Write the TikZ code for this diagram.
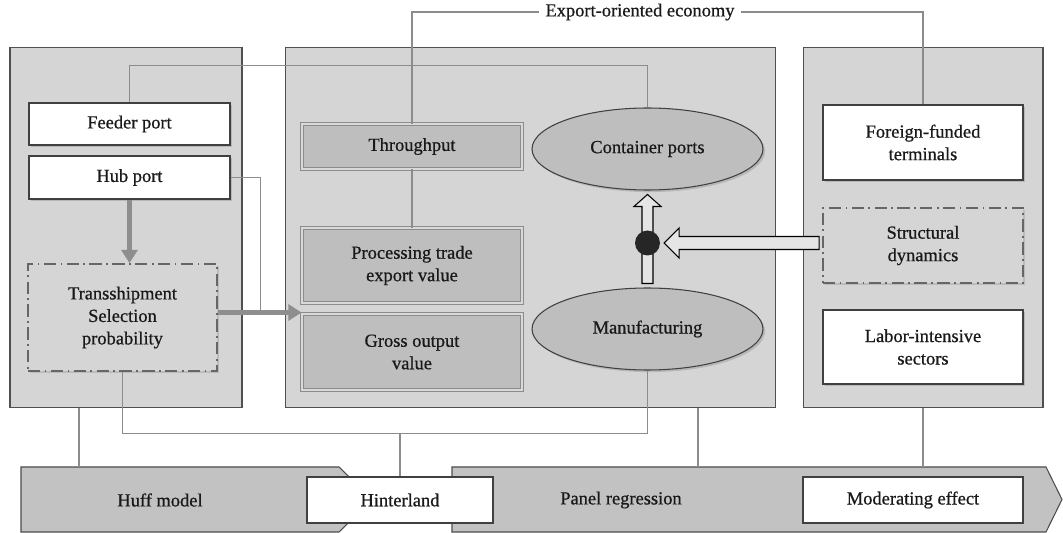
\documentclass[tikz,border=0pt]{standalone}
\usepackage{fontspec}
\setmainfont{Liberation Serif}[FakeBold=0.7]
\usetikzlibrary{shapes, arrows.meta, calc, shadows}
\definecolor{panelGray}{HTML}{D5D5D5}
\definecolor{boxGray}{HTML}{BEBEBE}
\definecolor{bandGray}{HTML}{C2C2C2}
\definecolor{lineGray}{HTML}{8C8C8C}
\definecolor{edgeGray}{HTML}{505050}
\definecolor{arrowGray}{HTML}{8E8E8E}
\tikzstyle{panel}       = [rectangle,
                           draw=edgeGray,
                           fill=panelGray,
                           line width=0.6pt]
\tikzstyle{whiteBox}    = [rectangle,
                           align=center,
                           draw=black!75,
                           fill=white,
                           line width=0.6pt,
                           drop shadow={shadow xshift=1.2pt, shadow yshift=-1.2pt, opacity=0.35}]
\tikzstyle{flatBox}     = [rectangle,
                           align=center,
                           draw=black!75,
                           fill=white,
                           line width=0.6pt]
\tikzstyle{grayBox}     = [rectangle,
                           align=center,
                           minimum width=4.4cm,
                           draw=black!45,
                           double=black!15,
                           double distance=1.2pt,
                           line width=0.5pt,
                           fill=boxGray,
                           drop shadow={shadow xshift=1.2pt, shadow yshift=-1.2pt, opacity=0.35}]
\tikzstyle{dashBox}     = [rectangle,
                           align=center,
                           draw=black!60,
                           fill=panelGray,
                           line width=1pt,
                           dash pattern=on 7pt off 2.5pt on 1pt off 2.5pt,
                           drop shadow={shadow xshift=1.2pt, shadow yshift=-1.2pt, opacity=0.3}]
\tikzstyle{oval}        = [ellipse,
                           minimum width=4.62cm,
                           minimum height=1.64cm,
                           draw=black!75,
                           fill=boxGray,
                           line width=0.6pt,
                           drop shadow={shadow xshift=1.2pt, shadow yshift=-1.2pt, opacity=0.35}]
\tikzstyle{band}        = [draw=black!70, fill=bandGray, line width=0.6pt]
\tikzstyle{link}        = [draw=lineGray, line width=0.6pt]
\tikzstyle{thickArrow}  = [draw=arrowGray, line width=2.4pt, -{Triangle[length=7.5pt, width=9pt]}]
\tikzstyle{hollowArrow} = [draw=black, fill=black!10, line width=0.6pt]
\tikzstyle{blackDot}    = [circle, fill=black!85, minimum size=0.5cm, inner sep=0pt]
\begin{document}
\begin{tikzpicture}[x=0.02cm, y=-0.02cm, font=\fontsize{10.5}{12.8}\selectfont, text=black!90]
        \useasboundingbox (0,0) rectangle (1063,533);

        % panels
        \node [panel, minimum width=4.64cm, minimum height=7.22cm] (leftPanel)  at (126,227.5) {};
        \node [panel, minimum width=9.82cm, minimum height=7.22cm] (midPanel)   at (530.5,227.5) {};
        \node [panel, minimum width=4.8cm,  minimum height=7.22cm] (rightPanel) at (923,227.5) {};

        % bottom bands
        \draw [band] (21,467) -- (339,467) -- (372,499.5) -- (339,532) -- (21,532) -- cycle;
        \draw [band] (452,467) -- (1046,467) -- (1062,499.5) -- (1046,532) -- (452,532) -- cycle;
        \coordinate (huffTop)  at (79,467);
        \coordinate (panelTop) at (698,467);
        \node (huff)     at (160,500) {Huff model};
        \node (panelReg) at (621,500) {Panel regression};
        \node [flatBox, minimum width=3.72cm, minimum height=0.92cm] (hinter) at (400,500) {Hinterland};
        \node [flatBox, minimum width=4.4cm,  minimum height=0.92cm] (moder)  at (913,500) {Moderating effect};

        % left panel
        \node [whiteBox, minimum width=4.02cm, minimum height=0.84cm] (feeder) at (129.5,124) {Feeder port};
        \node [whiteBox, minimum width=4.02cm, minimum height=0.86cm] (hub)    at ([shift={(0,53.5)}] feeder) {Hub port};
        \node [dashBox,  minimum width=3.78cm, minimum height=2.14cm] (trans)  at (122.5,317.5) {
            Transshipment \\ Selection \\ probability
            };

        % middle panel
        \node [grayBox, minimum height=0.9cm]  (through) at (412,146.5) {Throughput};
        \node [grayBox, minimum height=1.5cm]  (process) at ([shift={(0,119)}] through) {
            Processing trade \\ export value
            };
        \node [grayBox, minimum height=1.52cm] (gross)   at ([shift={(0,86.5)}] process) {
            Gross output \\ value
            };
        \node [oval] (container) at (647.5,149) {Container ports};
        \node [oval] (manuf)     at ([shift={(0,180)}] container) {Manufacturing};

        % right panel
        \node [whiteBox, minimum width=4cm, minimum height=1.5cm]  (foreign) at (923,142.5) {
            Foreign-funded \\ terminals
            };
        \node [dashBox,  minimum width=4cm, minimum height=1.5cm]  (struct)  at ([shift={(0,103)}] foreign) {
            Structural \\ dynamics
            };
        \node [whiteBox, minimum width=4cm, minimum height=1.48cm] (labor)   at ([shift={(0,101.5)}] struct) {
            Labor-intensive \\ sectors
            };

        \node (export) at (640,12) {Export-oriented economy};

        % hollow arrows and junction
        \draw [hollowArrow] ($(manuf.north)+(-5.5,-4)$) -- ++(0,-77) -- ++(-8,0) -- ++(13.5,-12)
              -- ++(13.5,12) -- ++(-8,0) -- ++(0,77) -- cycle;
        \node [blackDot] (junction) at ([shift={(0,94)}] container) {};
        \draw [hollowArrow] ($(struct.west |- junction)+(-3,-6.5)$) -- ++(-140,0) -- ++(0,-8.5)
              -- ++(-15,15) -- ++(15,15) -- ++(0,-8.5) -- ++(140,0) -- cycle;

        % connectors
        \draw [link] (feeder.north) -- ++(0,-37) -| (container.north);
        \draw [link] (through.north) |- (export.west);
        \draw [link] (export.east) -| (foreign.north);
        \draw [link] (through.south) -- (process.north);
        \draw [link] (hub.east) -| ($(trans.east)+(43,-5)$);

        \draw [thickArrow] (hub.south) -- (hub.south |- trans.north);
        \draw [thickArrow] ($(trans.east)+(0,-5)$) -- ($(trans.east -| gross.west)+(0,-5)$);

        \draw [link] (trans.south) -- ++(0,62) coordinate (busLeft) -| (manuf.south);
        \draw [link] (hinter.north) -- (hinter.north |- busLeft);
        \draw [link] (leftPanel.south -| huffTop) -- (huffTop);
        \draw [link] (midPanel.south -| panelTop) -- (panelTop);
        \draw [link] (rightPanel.south) -- (rightPanel.south |- panelTop);

    \end{tikzpicture}
\end{document}
